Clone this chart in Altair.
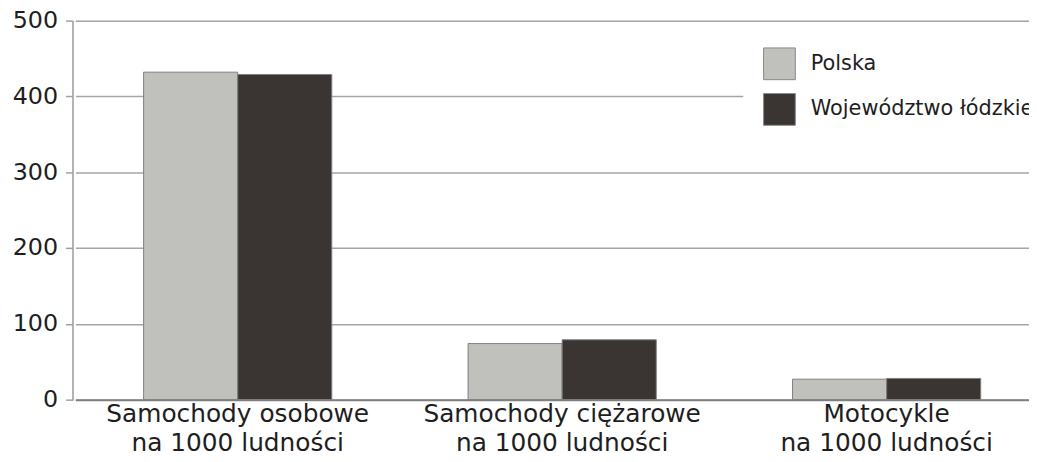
import altair as alt
import pandas as pd

categories = [
    "Samochody osobowe\nna 1000 ludności",
    "Samochody ciężarowe\nna 1000 ludności",
    "Motocykle\nna 1000 ludności",
]
series = ["Polska", "Województwo łódzkie"]
polska = [432, 74, 27]
lodzkie = [429, 79, 28]
y_ticks = [0, 100, 200, 300, 400, 500]
colors = ["#c0c0bc", "#3a3532"]

rows = []
for c, p, l in zip(categories, polska, lodzkie):
    rows.append({"kategoria": c, "seria": series[0], "wartosc": p})
    rows.append({"kategoria": c, "seria": series[1], "wartosc": l})
df = pd.DataFrame(rows)

FONT = "DejaVu Sans"

chart = (
    alt.Chart(df)
    .mark_bar(stroke="#808080", strokeWidth=1)
    .encode(
        x=alt.X(
            "kategoria:N",
            sort=categories,
            scale=alt.Scale(paddingInner=0.42, paddingOuter=0.21, range=[3, 984]),
            axis=alt.Axis(
                title=None,
                labelAngle=0,
                labelExpr="split(datum.label, '\\n')",
                ticks=False,
                grid=False,
                domainColor="#808080",
                domainWidth=2,
                labelFont=FONT,
                labelFontSize=25,
                labelLineHeight=29,
                labelColor="#1e1e1e",
                labelPadding=2,
                labelBaseline="top",
                labelLimit=500,
                zindex=1,
            ),
        ),
        xOffset=alt.XOffset(
            "seria:N", sort=series, scale=alt.Scale(paddingInner=0, paddingOuter=0)
        ),
        y=alt.Y(
            "wartosc:Q",
            scale=alt.Scale(domain=[0, 500]),
            axis=alt.Axis(
                title=None,
                values=y_ticks,
                gridColor="#a6a6a6",
                gridWidth=1.5,
                domainColor="#a0a0a0",
                domainWidth=1.5,
                tickColor="#a0a0a0",
                tickWidth=1.5,
                tickSize=7,
                labelPadding=8,
                labelFont=FONT,
                labelFontSize=24,
                labelColor="#1e1e1e",
            ),
        ),
        color=alt.Color(
            "seria:N",
            sort=series,
            scale=alt.Scale(domain=series, range=colors),
            legend=alt.Legend(
                title=None,
                orient="none",
                legendX=676,
                legendY=7,
                symbolType="square",
                symbolSize=1024,
                symbolStrokeColor="#888888",
                symbolStrokeWidth=1,
                labelFont=FONT,
                labelFontSize=21,
                labelColor="#1e1e1e",
                labelOffset=15,
                rowPadding=9,
                fillColor="white",
                padding=20,
                labelLimit=400,
            ),
        ),
    )
    .properties(
        width=964,
        height=382,
        autosize=alt.AutoSizeParams(type="none"),
        padding={"left": 65, "top": 11, "right": 0, "bottom": 50},
    )
    .configure_view(stroke=None)
    .configure(background="white")
)

chart.save("out.html", embed_options={"renderer": "svg", "actions": False})
